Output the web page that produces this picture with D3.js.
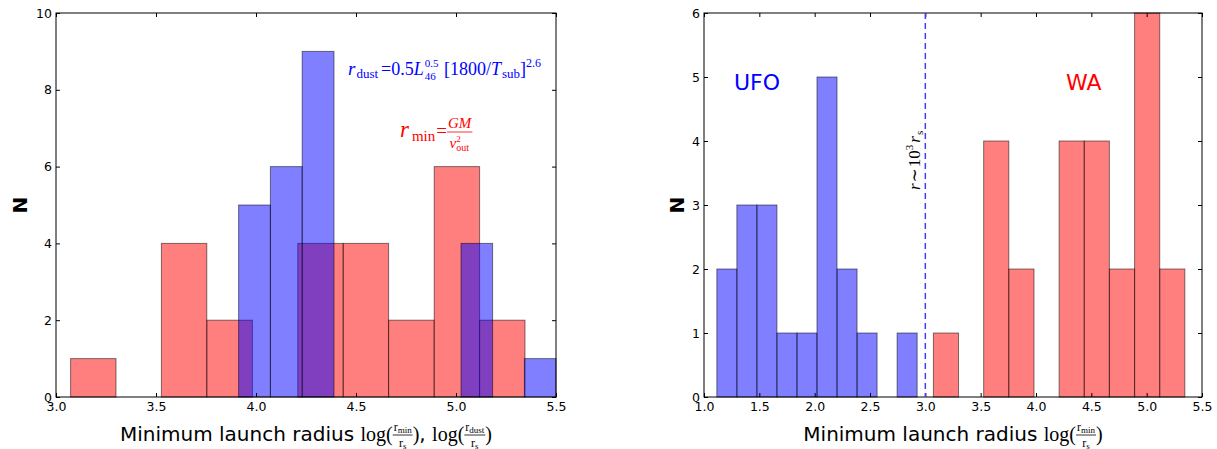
<!DOCTYPE html>
<html>
<head>
<meta charset="utf-8">
<script src="https://cdn.jsdelivr.net/npm/d3@7"></script>
<style>
  body { margin: 0; background: #fff; }
  svg { display: block; }
  svg text { white-space: pre; }
</style>
</head>
<body>
<script>
// histogram data (bin edges + counts)
var leftRedEdges = [3.073, 3.300, 3.527, 3.754, 3.982, 4.209, 4.436, 4.663, 4.891, 5.118, 5.345];
var leftRedCounts = [1, 0, 4, 2, 0, 4, 4, 2, 6, 2];
var leftBlueEdges = [3.913, 4.072, 4.231, 4.390, 4.548, 4.707, 4.866, 5.025, 5.183, 5.342, 5.500];
var leftBlueCounts = [5, 6, 9, 0, 0, 0, 0, 4, 0, 1];

var ufoEdges = [1.116, 1.297, 1.478, 1.659, 1.840, 2.021, 2.202, 2.383, 2.564, 2.745, 2.926];
var ufoCounts = [2, 3, 3, 1, 1, 5, 2, 1, 0, 1];
var waEdges = [3.073, 3.300, 3.527, 3.754, 3.982, 4.209, 4.436, 4.663, 4.891, 5.118, 5.345];
var waCounts = [1, 0, 4, 2, 0, 4, 4, 2, 6, 2];

var leftXTicks = [3.0, 3.5, 4.0, 4.5, 5.0, 5.5];
var leftYTicks = [0, 2, 4, 6, 8, 10];
var rightXTicks = [1.0, 1.5, 2.0, 2.5, 3.0, 3.5, 4.0, 4.5, 5.0, 5.5];
var rightYTicks = [0, 1, 2, 3, 4, 5, 6];
var dividerX = 3.0;

var SANS = "'DejaVu Sans', sans-serif";
var SERIF = "'Liberation Serif', 'DejaVu Serif', serif";
var RED = "#ff0000", BLUE = "#0000ff";

var svg = d3.select("body").append("svg")
    .attr("width", 1217).attr("height", 449);
svg.append("rect").attr("width", 1217).attr("height", 449).attr("fill", "#fff");

// lays out a row of math-ish pieces starting at 0, baseline 0, returns width
function row(g, items, color) {
  var cx = 0;
  items.forEach(function (it) {
    if (it.frac) {
      var ng = g.append("g"), dg = g.append("g");
      var nw = row(ng, it.frac[0], color), dw = row(dg, it.frac[1], color);
      var w = Math.max(nw, dw) + 2;
      ng.attr("transform", "translate(" + (cx + (w - nw) / 2) + "," + it.up + ")");
      dg.attr("transform", "translate(" + (cx + (w - dw) / 2) + "," + it.down + ")");
      g.append("line").attr("x1", cx).attr("x2", cx + w)
          .attr("y1", it.bar).attr("y2", it.bar)
          .attr("stroke", color).attr("stroke-width", 0.8);
      cx += w;
    } else if (it.stack) {
      var ws = it.stack.map(function (s) {
        var t = g.append("text").attr("x", cx).attr("y", s.dy || 0).text(s.t)
            .attr("fill", color)
            .style("font-size", s.s + "px").style("font-family", SERIF);
        return t.node().getComputedTextLength();
      });
      cx += d3.max(ws) + 1;
    } else {
      var t = g.append("text").attr("x", cx).attr("y", it.dy || 0).text(it.t)
          .attr("fill", color)
          .style("font-size", it.s + "px")
          .style("font-family", it.sans ? SANS : SERIF)
          .style("font-style", it.i ? "italic" : "normal");
      cx += t.node().getComputedTextLength() + (it.sp || 0);
    }
  });
  return cx;
}

function mathLabel(items, color, x, y, anchor, rotate) {
  var outer = svg.append("g").attr("transform", "translate(" + x + "," + y + ")" + (rotate ? " rotate(-90)" : ""));
  var inner = outer.append("g");
  var w = row(inner, items, color);
  var shift = anchor === "middle" ? -w / 2 : 0;
  inner.attr("transform", "translate(" + shift + ",0)");
  return outer;
}

function ratio(sub) {
  return {frac: [[{t: "r", s: 12}, {t: sub, s: 9, dy: 1.5}], [{t: "r", s: 12}, {t: "s", s: 9, dy: 1.5}]],
          up: -10, down: 6, bar: -6};
}

function panel(opt) {
  var g = svg.append("g");
  var x = d3.scaleLinear().domain(opt.xDomain).range([opt.left, opt.right]);
  var y = d3.scaleLinear().domain(opt.yDomain).range([opt.bottom, opt.top]);

  opt.series.forEach(function (s) {
    var bins = s.counts.map(function (c, i) { return {x0: s.edges[i], x1: s.edges[i + 1], n: c}; })
        .filter(function (b) { return b.n > 0; });
    g.append("g").selectAll("rect").data(bins).join("rect")
        .attr("x", function (b) { return x(b.x0); })
        .attr("width", function (b) { return x(b.x1) - x(b.x0); })
        .attr("y", function (b) { return y(b.n); })
        .attr("height", function (b) { return y(0) - y(b.n); })
        .attr("fill", s.color).attr("fill-opacity", 0.5)
        .attr("stroke", "#000").attr("stroke-opacity", 0.5).attr("stroke-width", 1);
  });

  var fmtX = d3.format(".1f");
  var bottomAxis = d3.axisBottom(x).tickValues(opt.xTicks).tickFormat(fmtX).tickSize(-4).tickPadding(5);
  var topAxis = d3.axisTop(x).tickValues(opt.xTicks).tickFormat("").tickSize(-4);
  var leftAxis = d3.axisLeft(y).tickValues(opt.yTicks).tickFormat(d3.format("d")).tickSize(-4).tickPadding(4);
  var rightAxis = d3.axisRight(y).tickValues(opt.yTicks).tickFormat("").tickSize(-4);

  [[bottomAxis, 0, opt.bottom], [topAxis, 0, opt.top], [leftAxis, opt.left, 0], [rightAxis, opt.right, 0]]
    .forEach(function (a) {
      var ag = g.append("g").attr("transform", "translate(" + a[1] + "," + a[2] + ")").call(a[0]);
      ag.select(".domain").remove();
      ag.selectAll("line").attr("stroke", "#000");
      ag.selectAll("text").attr("fill", "#000").style("font-size", "12.5px").style("font-family", SANS);
    });

  g.append("rect").attr("x", opt.left).attr("y", opt.top)
      .attr("width", opt.right - opt.left).attr("height", opt.bottom - opt.top)
      .attr("fill", "none").attr("stroke", "#000").attr("stroke-width", 1);

  g.append("text").attr("transform", "translate(" + opt.nX + "," + ((opt.top + opt.bottom) / 2) + ") rotate(-90)")
      .attr("text-anchor", "middle").text("N")
      .style("font-family", SANS).style("font-size", "20px").style("font-weight", "bold");
  return x;
}

// left panel
panel({
  left: 56, right: 556, top: 13, bottom: 397,
  xDomain: [3.0, 5.5], yDomain: [0, 10],
  xTicks: leftXTicks, yTicks: leftYTicks, nX: 27,
  series: [
    {edges: leftRedEdges, counts: leftRedCounts, color: RED},
    {edges: leftBlueEdges, counts: leftBlueCounts, color: BLUE}
  ]
});

mathLabel([
  {t: "Minimum launch radius ", s: 20, sans: true},
  {t: "log", s: 20}, {t: "(", s: 20},
  ratio("min"),
  {t: ")", s: 20}, {t: ", ", s: 20, sans: true},
  {t: "log", s: 20}, {t: "(", s: 20},
  ratio("dust"),
  {t: ")", s: 20}
], "#000", 306, 441, "middle");

mathLabel([
  {t: "r", s: 19, i: true, sp: 1}, {t: "dust", s: 13, dy: 3, sp: 3},
  {t: "=0.5", s: 18}, {t: "L", s: 18, i: true, sp: 1},
  {stack: [{t: "0.5", s: 11, dy: -8}, {t: "46", s: 11, dy: 5}]},
  {t: " [1800/", s: 18}, {t: "T", s: 18, i: true, sp: 1}, {t: "sub", s: 13, dy: 3},
  {t: "]", s: 18}, {t: "2.6", s: 12, dy: -8}
], BLUE, 348, 75, "start");

mathLabel([
  {t: "r", s: 23, i: true, sp: 3}, {t: "min", s: 15, dy: 4, sp: 1},
  {t: "=", s: 19},
  {frac: [[{t: "GM", s: 15, i: true}],
          [{t: "v", s: 15, i: true}, {stack: [{t: "2", s: 9, dy: -6}, {t: "out", s: 10, dy: 3}]}]],
   up: -9, down: 11, bar: -5}
], RED, 400, 137, "start");

// right panel
var xr = panel({
  left: 704, right: 1202, top: 13, bottom: 397,
  xDomain: [1.0, 5.5], yDomain: [0, 6],
  xTicks: rightXTicks, yTicks: rightYTicks, nX: 684,
  series: [
    {edges: ufoEdges, counts: ufoCounts, color: BLUE},
    {edges: waEdges, counts: waCounts, color: RED}
  ]
});

svg.append("line").attr("x1", xr(dividerX)).attr("x2", xr(dividerX))
    .attr("y1", 13).attr("y2", 397)
    .attr("stroke", "#3d3dff").attr("stroke-width", 1.5).attr("stroke-dasharray", "6,4");

mathLabel([
  {t: "r", s: 17, i: true, sp: 1}, {t: "∼", s: 17, sp: 1}, {t: "10", s: 17},
  {t: "3", s: 11, dy: -7, sp: 2}, {t: "r", s: 17, i: true, sp: 1}, {t: "s", s: 11, dy: 3}
], "#000", 920, 190, "start", true);

svg.append("text").attr("x", 734).attr("y", 90).text("UFO")
    .attr("fill", BLUE).style("font-family", SANS).style("font-size", "22px");
svg.append("text").attr("x", 1066).attr("y", 90).text("WA")
    .attr("fill", RED).style("font-family", SANS).style("font-size", "22px");

mathLabel([
  {t: "Minimum launch radius ", s: 20, sans: true},
  {t: "log", s: 20}, {t: "(", s: 20},
  ratio("min"),
  {t: ")", s: 20}
], "#000", 953, 441, "middle");
</script>
</body>
</html>
